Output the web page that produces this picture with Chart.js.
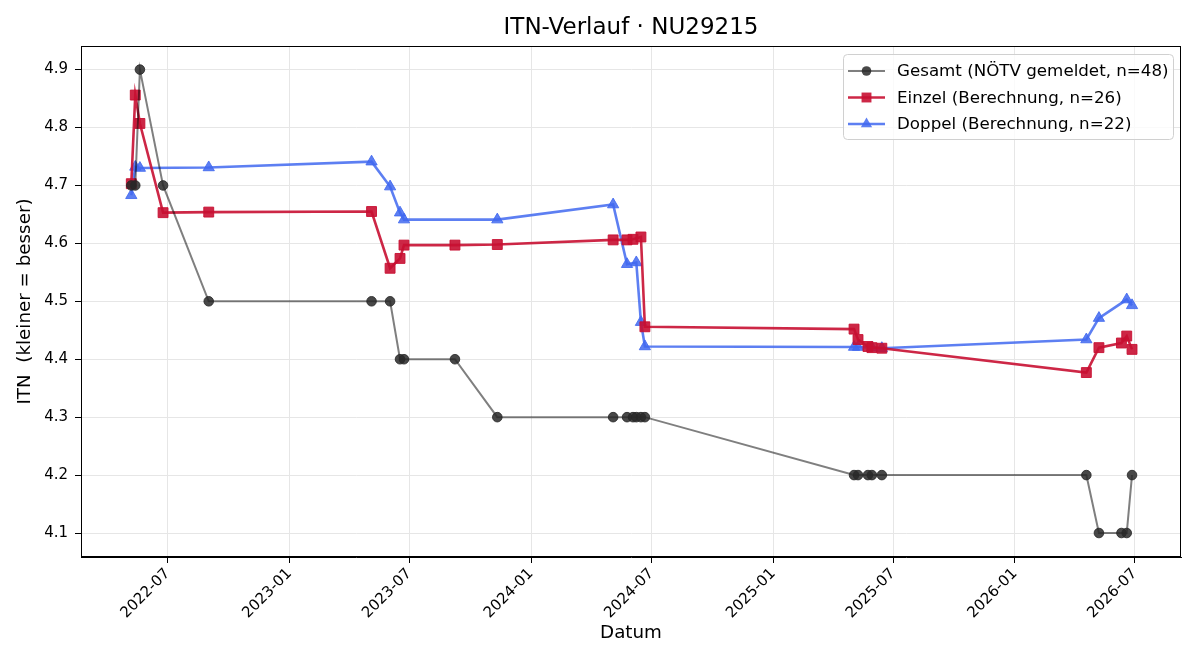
<!DOCTYPE html>
<html>
<head>
    <meta charset="utf-8">
    <title>ITN-Verlauf</title>
    <script src="https://cdn.jsdelivr.net/npm/chart.js@4"></script>
    <style>
        html, body { margin: 0; padding: 0; background: #fff; }
    </style>
</head>
<body>
    <canvas id="itnChart" width="1200" height="660"></canvas>
    <script>
        // Gesamt (NÖTV gemeldet) - distinct dates
        const gesamtDates = ['2022-05-07', '2022-05-13', '2022-05-20', '2022-06-24', '2022-09-01',
            '2023-05-05', '2023-06-02', '2023-06-17', '2023-06-23', '2023-09-08', '2023-11-11',
            '2024-05-04', '2024-05-25', '2024-06-03', '2024-06-08', '2024-06-15', '2024-06-21',
            '2025-05-03', '2025-05-09', '2025-05-24', '2025-05-30', '2025-06-14',
            '2026-04-19', '2026-05-08', '2026-06-11', '2026-06-19', '2026-06-27'];
        const gesamtItn = [4.7, 4.7, 4.9, 4.7, 4.5,
            4.5, 4.5, 4.4, 4.4, 4.4, 4.3,
            4.3, 4.3, 4.3, 4.3, 4.3, 4.3,
            4.2, 4.2, 4.2, 4.2, 4.2,
            4.2, 4.1, 4.1, 4.1, 4.2];

        // Einzel (Berechnung)
        const einzelDates = ['2022-05-07', '2022-05-13', '2022-05-20', '2022-06-24', '2022-09-01',
            '2023-05-05', '2023-06-02', '2023-06-17', '2023-06-23', '2023-09-08', '2023-11-11',
            '2024-05-04', '2024-05-25', '2024-06-03', '2024-06-15', '2024-06-21',
            '2025-05-03', '2025-05-09', '2025-05-24', '2025-05-30', '2025-06-14',
            '2026-04-19', '2026-05-08', '2026-06-11', '2026-06-19', '2026-06-27'];
        const einzelItn = [4.703, 4.856, 4.807, 4.653, 4.654,
            4.655, 4.557, 4.574, 4.597, 4.597, 4.598,
            4.606, 4.606, 4.607, 4.611, 4.456,
            4.452, 4.434, 4.422, 4.420, 4.419,
            4.377, 4.420, 4.428, 4.440, 4.417];

        // Doppel (Berechnung)
        const doppelDates = ['2022-05-07', '2022-05-13', '2022-05-20', '2022-09-01',
            '2023-05-05', '2023-06-02', '2023-06-17', '2023-06-23', '2023-11-11',
            '2024-05-04', '2024-05-25', '2024-06-08', '2024-06-15', '2024-06-21',
            '2025-05-03', '2025-05-09', '2025-05-30', '2025-06-14',
            '2026-04-19', '2026-05-08', '2026-06-19', '2026-06-27'];
        const doppelItn = [4.683, 4.732, 4.730, 4.731,
            4.741, 4.698, 4.653, 4.641, 4.641,
            4.667, 4.564, 4.567, 4.464, 4.422,
            4.421, 4.421, 4.420, 4.419,
            4.434, 4.471, 4.503, 4.493];

        const xTickMonths = ['2022-07', '2023-01', '2023-07', '2024-01', '2024-07',
            '2025-01', '2025-07', '2026-01', '2026-07'];
        const yTickValues = [4.1, 4.2, 4.3, 4.4, 4.5, 4.6, 4.7, 4.8, 4.9];

        const FONT = 'DejaVu Sans';

        function day(s) {
            const p = s.split('-').map(Number);
            return Date.UTC(p[0], p[1] - 1, p[2] || 1);
        }
        function toPoints(dates, vals) {
            return dates.map((d, i) => ({ x: day(d), y: vals[i] }));
        }
        function fmtMonth(v) {
            const d = new Date(v);
            return d.getUTCFullYear() + '-' + String(d.getUTCMonth() + 1).padStart(2, '0');
        }

        const series = [
            { label: 'Gesamt (NÖTV gemeldet, n=48)', line: 'rgba(0,0,0,0.5)', mark: 'rgba(40,40,40,0.85)', style: 'circle', r: 4.8, lw: 2 },
            { label: 'Einzel (Berechnung, n=26)', line: 'rgba(200,16,50,0.9)', mark: 'rgba(200,16,50,0.9)', style: 'rect', r: 7, lw: 2.6 },
            { label: 'Doppel (Berechnung, n=22)', line: 'rgba(65,105,240,0.85)', mark: 'rgba(65,105,240,0.85)', style: 'triangle', r: 6.5, lw: 2.6 }
        ];

        function drawMarker(ctx, style, r, x, y) {
            if (style === 'circle') {
                ctx.arc(x, y, r, 0, Math.PI * 2);
            } else if (style === 'rect') {
                const h = r * Math.SQRT1_2;
                ctx.rect(x - h, y - h, 2 * h, 2 * h);
            } else {
                ctx.moveTo(x, y - r);
                ctx.lineTo(x - r * Math.cos(Math.PI / 6), y + r / 2);
                ctx.lineTo(x + r * Math.cos(Math.PI / 6), y + r / 2);
                ctx.closePath();
            }
        }

        // title, top/right frame and the legend inside the plot
        const decorPlugin = {
            id: 'decor',
            afterDraw(chart) {
                const ctx = chart.ctx;
                const a = chart.chartArea;
                ctx.save();
                ctx.fillStyle = '#000';
                ctx.font = '23px "' + FONT + '"';
                ctx.textAlign = 'center';
                ctx.textBaseline = 'middle';
                ctx.fillText('ITN-Verlauf · NU29215', (a.left + a.right) / 2, 28);

                ctx.strokeStyle = '#000';
                ctx.lineWidth = 1;
                ctx.strokeRect(a.left + 0.5, a.top + 0.5, a.right - a.left - 1, a.bottom - a.top - 1);

                const bw = 330, bh = 85;
                const bx = a.right - 8 - bw, by = a.top + 8;
                ctx.beginPath();
                ctx.roundRect(bx + 0.5, by + 0.5, bw, bh, 4);
                ctx.fillStyle = 'rgba(255,255,255,0.8)';
                ctx.fill();
                ctx.strokeStyle = '#d0d0d0';
                ctx.stroke();

                ctx.font = '16.7px "' + FONT + '"';
                ctx.textAlign = 'left';
                series.forEach((s, i) => {
                    const y = by + 17 + i * 26.5;
                    const x0 = bx + 5, x1 = bx + 42;
                    ctx.strokeStyle = s.line;
                    ctx.lineWidth = s.lw;
                    ctx.beginPath();
                    ctx.moveTo(x0, y);
                    ctx.lineTo(x1, y);
                    ctx.stroke();
                    ctx.fillStyle = s.mark;
                    ctx.beginPath();
                    drawMarker(ctx, s.style, s.r, (x0 + x1) / 2, y);
                    ctx.fill();
                    ctx.fillStyle = '#000';
                    ctx.fillText(s.label, bx + 54, y + 1);
                });
                ctx.restore();
            }
        };

        const datasets = [
            toPoints(gesamtDates, gesamtItn),
            toPoints(einzelDates, einzelItn),
            toPoints(doppelDates, doppelItn)
        ].map((data, i) => ({
            label: series[i].label,
            data: data,
            borderColor: series[i].line,
            borderWidth: series[i].lw,
            backgroundColor: series[i].mark,
            pointBackgroundColor: series[i].mark,
            pointBorderColor: series[i].mark,
            pointBorderWidth: 1,
            pointStyle: series[i].style,
            pointRadius: series[i].r,
            tension: 0,
            fill: false
        }));

        const tickFont = { family: FONT, size: 15 };
        const labelFont = { family: FONT, size: 18.3 };

        const ctx = document.getElementById('itnChart').getContext('2d');
        const itnChart = new Chart(ctx, {
            type: 'line',
            data: { datasets: datasets },
            options: {
                responsive: false,
                animation: false,
                devicePixelRatio: 1,
                layout: { padding: { left: 0, top: 46, right: 19, bottom: 0 }, autoPadding: false },
                plugins: {
                    legend: { display: false },
                    tooltip: { enabled: false }
                },
                scales: {
                    x: {
                        type: 'linear',
                        min: day('2022-02-20'),
                        max: day('2026-09-09'),
                        afterBuildTicks: (s) => { s.ticks = xTickMonths.map(m => ({ value: day(m) })); },
                        afterFit: (s) => { s.height = 103; },
                        ticks: {
                            autoSkip: false,
                            minRotation: 45,
                            maxRotation: 45,
                            color: '#000',
                            font: tickFont,
                            padding: 2,
                            callback: (v) => fmtMonth(v)
                        },
                        grid: { color: '#e6e6e6', tickColor: '#000', tickLength: 6 },
                        border: { color: '#000', width: 1 },
                        title: { display: true, text: 'Datum', color: '#000', font: labelFont, padding: { top: 0, bottom: 16 } }
                    },
                    y: {
                        min: 4.0586,
                        max: 4.9407,
                        afterBuildTicks: (s) => { s.ticks = yTickValues.map(v => ({ value: v })); },
                        afterFit: (s) => { s.width = 81; },
                        ticks: {
                            color: '#000',
                            font: tickFont,
                            padding: 7,
                            callback: (v) => v.toFixed(1)
                        },
                        grid: { color: '#e6e6e6', tickColor: '#000', tickLength: 6 },
                        border: { color: '#000', width: 1 },
                        title: { display: true, text: 'ITN  (kleiner = besser)', color: '#000', font: labelFont, padding: { top: 14, bottom: 0 } }
                    }
                }
            },
            plugins: [decorPlugin]
        });
    </script>
</body>
</html>
